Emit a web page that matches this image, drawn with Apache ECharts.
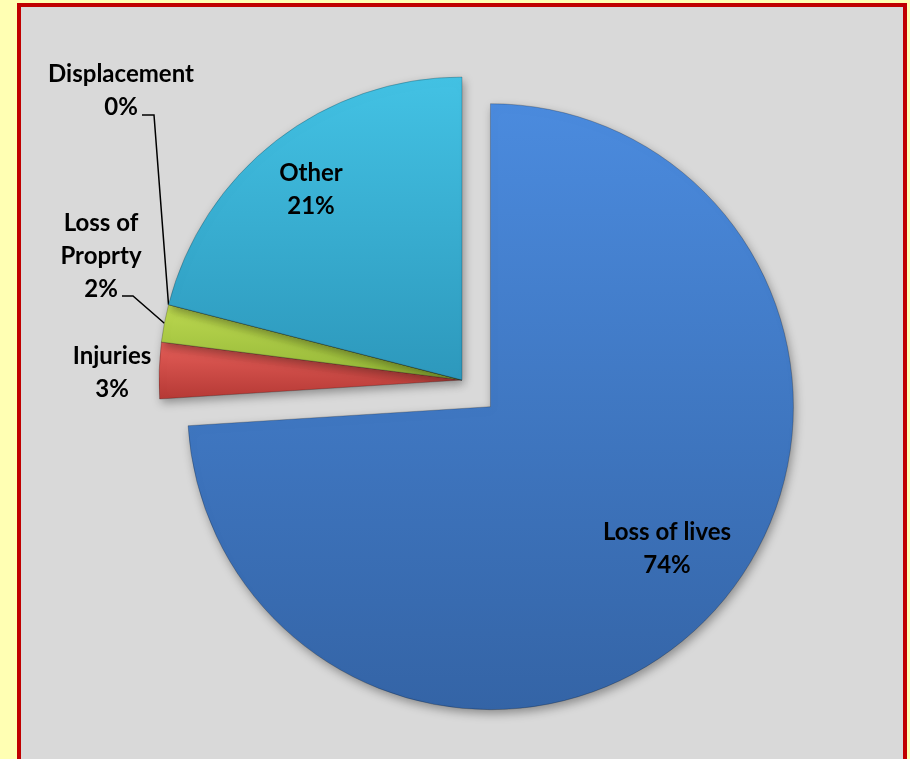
<!DOCTYPE html>
<html>
<head>
<meta charset="utf-8">
<script src="https://cdn.jsdelivr.net/npm/echarts@6/dist/echarts.min.js"></script>
<style>
  html, body { margin: 0; padding: 0; width: 910px; height: 759px; overflow: hidden; background: #FFFFB3; }
  #frame { position: absolute; left: 17px; top: 3px; width: 882px; height: 800px; border: 4px solid #C00000; background: #D9D9D9; box-sizing: content-box; }
  #chart { position: absolute; left: 0; top: 0; width: 910px; height: 759px; }
</style>
</head>
<body>
<div id="frame"></div>
<div id="chart"></div>
<script>
// Impact categories, clockwise from twelve o'clock
const categories = ['Loss of lives', 'Injuries', 'Loss of Proprty', 'Displacement', 'Other'];
// Share of each impact, in percent
const shares = [74, 3, 2, 0, 21];
// Label captions (with the line breaks used on the chart)
const captions = ['Loss of lives', 'Injuries', 'Loss of\nProprty', 'Displacement', 'Other'];

// Slice fills: top colour, bottom colour
const fills = [
  ['#4B8BDE', '#3464A6'],
  ['#E65F59', '#B53935'],
  ['#BDD950', '#93B637'],
  ['#8064A2', '#5F4A7C'],
  ['#43C2E4', '#2D98BC']
];

// Label block centres and leader-line elbows/ends
const labelCentres = [[667, 549], [112, 373], [101, 256], [121, 91], [311, 190]];
const leaderPoints = [null, null, [[133, 296], [122, 296]], [[154, 115], [142, 115]], null];

// Pie geometry
const pieCentre = [462, 380];
const pieRadius = 303;
const explodeIndex = 0;      // slice pulled out of the pie
const explodeDistance = 39;

function fillFor(i) {
  return {
    type: 'linear', x: 0, y: 0, x2: 0, y2: 1,
    colorStops: [
      { offset: 0, color: fills[i][0] },
      { offset: 1, color: fills[i][1] }
    ]
  };
}

// Centre of the pulled-out slice: moved along its bisector
const total = shares.reduce(function (a, b) { return a + b; }, 0);
let before = 0;
for (let k = 0; k < explodeIndex; k++) before += shares[k];
const midDeg = 90 - 360 * (before + shares[explodeIndex] / 2) / total;
const midRad = midDeg * Math.PI / 180;
const explodedCentre = [
  pieCentre[0] + explodeDistance * Math.cos(midRad),
  pieCentre[1] - explodeDistance * Math.sin(midRad)
];

function buildData(visible) {
  return categories.map(function (name, i) {
    const show = visible(i);
    const inside = (name === 'Loss of lives' || name === 'Other');
    return {
      name: name,
      value: shares[i],
      itemStyle: show ? {
        color: fillFor(i),
        borderColor: 'rgba(0,0,0,0.22)',
        borderWidth: 1,
        shadowBlur: 10,
        shadowOffsetX: 2,
        shadowOffsetY: 4,
        shadowColor: 'rgba(0,0,0,0.35)'
      } : { color: 'rgba(0,0,0,0)', borderWidth: 0, shadowBlur: 0 },
      label: { show: show, position: inside ? 'inside' : 'outside' },
      labelLine: { show: show && leaderPoints[i] !== null }
    };
  });
}

const labelOptions = {
  show: true,
  color: '#000',
  fontFamily: 'Lato',
  fontWeight: 'bold',
  fontSize: 24,
  lineHeight: 33,
  align: 'center',
  formatter: function (p) {
    return captions[p.dataIndex] + '\n' + Math.round(p.percent) + '%';
  }
};

function placeLabel(params) {
  const c = labelCentres[params.dataIndex];
  const out = { x: c[0], y: c[1], align: 'center', verticalAlign: 'middle' };
  const lead = leaderPoints[params.dataIndex];
  if (lead && params.labelLinePoints) {
    out.labelLinePoints = [params.labelLinePoints[0], lead[0], lead[1]];
  }
  return out;
}

function pieSeries(centre, visible) {
  return {
    type: 'pie',
    center: centre,
    radius: pieRadius,
    startAngle: 90,
    clockwise: true,
    silent: true,
    avoidLabelOverlap: false,
    emphasis: { disabled: true },
    data: buildData(visible),
    label: labelOptions,
    labelLine: { length: 10, length2: 10, lineStyle: { color: '#000', width: 1.5 } },
    labelLayout: placeLabel
  };
}

const chart = echarts.init(document.getElementById('chart'), null, { renderer: 'canvas' });

chart.setOption({
  backgroundColor: 'transparent',
  animation: false,
  series: [
    pieSeries(pieCentre, function (i) { return i !== explodeIndex; }),
    pieSeries(explodedCentre, function (i) { return i === explodeIndex; })
  ]
});
</script>
</body>
</html>
